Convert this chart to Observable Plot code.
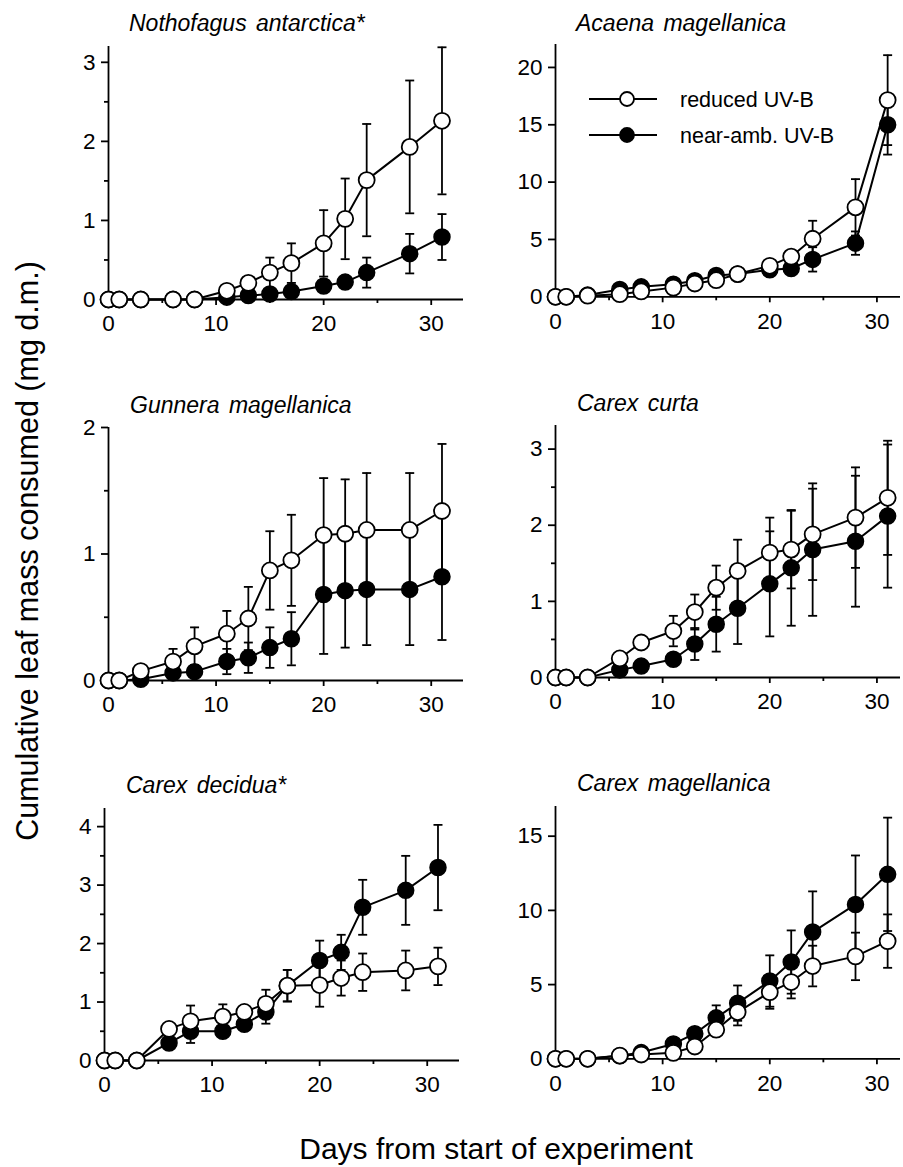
<!DOCTYPE html>
<html><head><meta charset="utf-8">
<script src="https://cdn.jsdelivr.net/npm/d3@7"></script>
<script src="https://cdn.jsdelivr.net/npm/@observablehq/plot@0.6"></script>
<style>
html,body{margin:0;padding:0;background:#fff;overflow:hidden}
#fig{position:relative;width:903px;height:1167px;font-family:"Liberation Sans",Arial,sans-serif;color:#000;overflow:hidden}
#fig svg{position:absolute;overflow:visible}
.title{position:absolute;font-style:italic;font-size:23px;white-space:nowrap;line-height:1;word-spacing:3px}
.xlab{position:absolute;font-size:30px;white-space:nowrap;line-height:1;transform:translate(-50%,-50%)}
.ylab{position:absolute;font-size:30.5px;white-space:nowrap;line-height:1;transform:translate(-50%,-50%) rotate(-90deg)}
</style></head><body><div id="fig"></div><script>
// ---- data ----
const days = [0,1,3,6,8,11,13,15,17,20,22,24,28,31];
const titles = ["Nothofagus antarctica*","Acaena magellanica","Gunnera magellanica","Carex curta","Carex decidua*","Carex magellanica"];
const seriesNames = ["reduced UV-B","near-amb. UV-B"];
const xTicks = [0,10,20,30];
const xMinorTicks = [5,15,25];

const nothoReduced   = [0,0,0,0,0,0.11,0.21,0.34,0.46,0.71,1.02,1.51,1.93,2.26];
const nothoReducedSE = [0,0,0,0,0,0.03,0.05,0.19,0.25,0.42,0.51,0.71,0.84,0.93];
const nothoNear      = [0,0,0,0,0,0.03,0.05,0.07,0.10,0.17,0.22,0.34,0.58,0.79];
const nothoNearSE    = [0,0,0,0,0,0,0.02,0.05,0.07,0.05,0.05,0.19,0.25,0.29];

const acaenaReduced   = [0,0,0.1,0.23,0.47,0.8,1.16,1.45,1.98,2.7,3.5,5.06,7.8,17.15];
const acaenaReducedSE = [0,0,0,0.1,0.15,0.2,0.25,0.3,0.3,0.4,0.5,1.57,2.46,3.92];
const acaenaNear      = [0,0,0.15,0.64,0.87,1.1,1.4,1.86,1.98,2.35,2.47,3.26,4.68,15.0];
const acaenaNearSE    = [0,0,0,0.1,0.1,0.15,0.15,0.2,0.2,0.3,0.3,1.06,1.02,2.6];

const gunneraReduced   = [0,0,0.074,0.15,0.27,0.37,0.49,0.87,0.95,1.15,1.16,1.19,1.19,1.34];
const gunneraReducedSE = [0,0,0,0.1,0.15,0.18,0.25,0.31,0.36,0.45,0.43,0.45,0.45,0.53];
const gunneraNear      = [0,0,0.01,0.06,0.07,0.15,0.18,0.26,0.33,0.68,0.71,0.72,0.72,0.82];
const gunneraNearSE    = [0,0,0,0,0.05,0.1,0.12,0.16,0.21,0.47,0.45,0.44,0.44,0.5];

const curtaReduced   = [0,0,0,0.25,0.46,0.61,0.86,1.18,1.40,1.64,1.68,1.88,2.1,2.36];
const curtaReducedSE = [0,0,0,0.05,0.08,0.2,0.23,0.29,0.41,0.46,0.51,0.6,0.66,0.75];
const curtaNear      = [0,0,0,0.1,0.15,0.24,0.44,0.70,0.91,1.23,1.44,1.68,1.79,2.12];
const curtaNearSE    = [0,0,0,0.03,0.05,0.08,0.21,0.36,0.47,0.69,0.76,0.87,0.86,0.94];

const deciduaReduced   = [0,0,0,0.54,0.67,0.75,0.83,0.97,1.28,1.29,1.41,1.51,1.54,1.61];
const deciduaReducedSE = [0,0,0,0.08,0.27,0.21,0.05,0.24,0.27,0.37,0.3,0.32,0.34,0.32];
const deciduaNear      = [0,0,0,0.3,0.5,0.5,0.62,0.83,1.28,1.71,1.85,2.62,2.91,3.30];
const deciduaNearSE    = [0,0,0,0.05,0.2,0.08,0.08,0.2,0.27,0.34,0.3,0.47,0.59,0.73];

const cmagReduced   = [0,0,0,0.22,0.29,0.4,0.83,1.96,3.15,4.49,5.17,6.25,6.9,7.93];
const cmagReducedSE = [0,0,0,0.05,0.05,0.1,0.2,0.4,0.9,1.12,1.1,1.37,1.6,1.8];
const cmagNear      = [0,0,0,0.2,0.42,1.0,1.69,2.76,3.75,5.24,6.52,8.54,10.4,12.43];
const cmagNearSE    = [0,0,0,0.05,0.1,0.15,0.3,0.84,1.19,1.73,2.13,2.74,3.3,3.82];

const yMajor = [[0,1,2,3],[0,5,10,15,20],[0,1,2],[0,1,2,3],[0,1,2,3,4],[0,5,10,15]];
const yMinor = [[0.5,1.5,2.5],[],[0.5,1.5],[0.5,1.5,2.5],[0.5,1.5,2.5,3.5],[]];
const yMax = [3.2,22,2,3.31,4.31,17];
const xMax = [33,32.2,33,32.2,33,32.2];

const seriesData = [
  [nothoReduced,nothoReducedSE,nothoNear,nothoNearSE],
  [acaenaReduced,acaenaReducedSE,acaenaNear,acaenaNearSE],
  [gunneraReduced,gunneraReducedSE,gunneraNear,gunneraNearSE],
  [curtaReduced,curtaReducedSE,curtaNear,curtaNearSE],
  [deciduaReduced,deciduaReducedSE,deciduaNear,deciduaNearSE],
  [cmagReduced,cmagReducedSE,cmagNear,cmagNearSE]
];

// ---- layout (page pixels) ----
const layout = [
  {xl:107.5, xr:462.5, y0:298.5, yt:45.5,  tx:129, ty:23},
  {xl:555,   xr:900,   y0:296,   yt:43.7,  tx:576, ty:23},
  {xl:107.5, xr:462.5, y0:679.5, yt:426.5, tx:130, ty:405},
  {xl:555,   xr:900,   y0:676.7, yt:424.7, tx:577, ty:403},
  {xl:104,   xr:459,   y0:1060,  yt:808,   tx:126, ty:785},
  {xl:555,   xr:900,   y0:1058.3,yt:806,   tx:577, ty:783}
];

const fig = document.getElementById("fig");
const FONT = '"Liberation Sans", Arial, sans-serif';
const SW = 1.8;
const cap = {draw(ctx){ ctx.moveTo(-4.5,0); ctx.lineTo(4.5,0); }};
const fmt = d => String(d);

const ML = 60, MR = 3, MT = 12, MB = 45;

layout.forEach((L, k) => {
  const [R, RS, N, NS] = seriesData[k];
  const rows = days.map((d,i) => ({day:d, reduced:R[i], rse:RS[i], near:N[i], nse:NS[i]}));
  const rErr = rows.filter(d => d.rse > 0);
  const nErr = rows.filter(d => d.nse > 0);
  const width = L.xr - L.xl + ML + MR;
  const height = L.y0 - L.yt + MT + MB;
  const marks = [
    Plot.axisY({ticks: yMajor[k], tickFormat: fmt, tickSize: 7, tickPadding: 6, strokeWidth: SW, label: null, fontSize: 22.5}),
    Plot.axisX({ticks: xTicks, tickFormat: fmt, tickSize: 6, tickPadding: 10, strokeWidth: SW, label: null, fontSize: 22.5}),
    Plot.axisX({ticks: xMinorTicks, tickSize: 4, tickFormat: () => "", strokeWidth: SW, label: null}),
    Plot.ruleX([0], {strokeWidth: SW}),
    Plot.ruleY([0], {strokeWidth: SW}),
    Plot.ruleX(nErr, {x:"day", y1: d => d.near - d.nse, y2: d => d.near + d.nse, strokeWidth: SW}),
    Plot.dot(nErr, {x:"day", y: d => d.near - d.nse, symbol: cap, fill:"none", stroke:"black", strokeWidth: SW, r: 4}),
    Plot.dot(nErr, {x:"day", y: d => d.near + d.nse, symbol: cap, fill:"none", stroke:"black", strokeWidth: SW, r: 4}),
    Plot.ruleX(rErr, {x:"day", y1: d => d.reduced - d.rse, y2: d => d.reduced + d.rse, strokeWidth: SW}),
    Plot.dot(rErr, {x:"day", y: d => d.reduced - d.rse, symbol: cap, fill:"none", stroke:"black", strokeWidth: SW, r: 4}),
    Plot.dot(rErr, {x:"day", y: d => d.reduced + d.rse, symbol: cap, fill:"none", stroke:"black", strokeWidth: SW, r: 4}),
    Plot.line(rows, {x:"day", y:"near", stroke:"black", strokeWidth: 2}),
    Plot.dot(rows, {x:"day", y:"near", r: 8, fill:"black", stroke:"black", strokeWidth: 1.5}),
    Plot.line(rows, {x:"day", y:"reduced", stroke:"black", strokeWidth: 2}),
    Plot.dot(rows, {x:"day", y:"reduced", r: 8, fill:"white", stroke:"black", strokeWidth: 1.8})
  ];
  if (yMinor[k].length) marks.unshift(Plot.axisY({ticks: yMinor[k], tickSize: 4, tickFormat: () => "", strokeWidth: SW, label: null}));
  const svg = Plot.plot({
    width, height, marginLeft: ML, marginRight: MR, marginTop: MT, marginBottom: MB,
    x: {domain: [0, xMax[k]], label: null},
    y: {domain: [0, yMax[k]], label: null},
    style: {fontFamily: FONT, fontSize: "22.5px", background: "transparent", overflow: "visible"},
    marks
  });
  svg.style.left = (L.xl - ML) + "px";
  svg.style.top = (L.yt - MT) + "px";
  fig.appendChild(svg);

  const t = document.createElement("div");
  t.className = "title";
  t.textContent = titles[k];
  t.style.left = L.tx + "px";
  t.style.top = (L.ty - 11) + "px";
  fig.appendChild(t);
});

// legend (inside Acaena panel)
const leg = d3.create("svg").attr("width", 280).attr("height", 80)
  .style("left", "580px").style("top", "78px");
seriesNames.forEach((name, i) => {
  const g = leg.append("g").attr("transform", `translate(0,${21 + i*36})`);
  g.append("line").attr("x1", 9).attr("x2", 77).attr("y1", 0).attr("y2", 0).attr("stroke","black").attr("stroke-width", 2);
  g.append("circle").attr("cx", 47).attr("cy", 0).attr("r", 7).attr("fill", i === 0 ? "white" : "black").attr("stroke","black").attr("stroke-width", 1.8);
  g.append("text").attr("x", 100).attr("y", 0).attr("dy", "0.35em").attr("font-family", FONT).attr("font-size", 21.5).text(name);
});
fig.appendChild(leg.node());

const xl = document.createElement("div");
xl.className = "xlab"; xl.textContent = "Days from start of experiment";
xl.style.left = "496px"; xl.style.top = "1148.5px";
fig.appendChild(xl);
const yl = document.createElement("div");
yl.className = "ylab"; yl.textContent = "Cumulative leaf mass consumed (mg d.m.)";
yl.style.left = "26.5px"; yl.style.top = "551px";
fig.appendChild(yl);
</script></body></html>
